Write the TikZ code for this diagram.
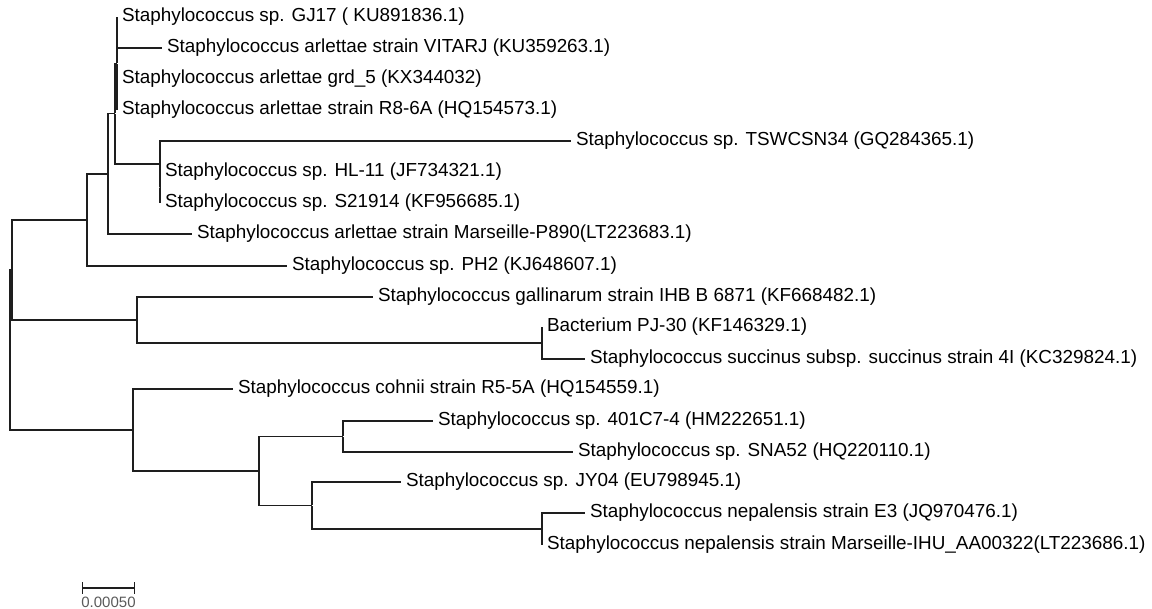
\documentclass[tikz,border=0pt]{standalone}
\usepackage{fontspec}
\setmainfont{Liberation Sans}
\usetikzlibrary{arrows.meta,positioning}
\definecolor{ink}{HTML}{1E1E1E}
\definecolor{scalegray}{HTML}{5A5A5A}
\tikzset{
  branch/.style={draw=ink,line width=.9pt},
  fork/.style={inner sep=0pt,minimum size=0pt},
  leaf/.style={anchor=west,inner xsep=3.6pt,inner ysep=0pt,text height=.72em,text depth=0pt,
    font=\fontsize{14.15}{16}\selectfont,text=black},
  scalelabel/.style={inner sep=0pt,text height=.72em,text depth=0pt,
    font=\fontsize{11.25}{13}\selectfont,text=scalegray},
}

\begin{document}
\begin{tikzpicture}[x=.75pt,y=-.75pt]
  \useasboundingbox (0,0) rectangle (1152,609);
  % leaves
  \node[leaf] (gj17) at (117,17) {Staphylococcus sp. GJ17 ( KU891836.1)};
  \node[leaf] (vitarj) at (162,48) {Staphylococcus arlettae strain VITARJ (KU359263.1)};
  \node[leaf] (grd5) at (117,79) {Staphylococcus arlettae grd\_5 (KX344032)};
  \node[leaf] (r86a) at (117,110) {Staphylococcus arlettae strain R8-6A (HQ154573.1)};
  \node[leaf] (tswcsn) at (571,141) {Staphylococcus sp. TSWCSN34 (GQ284365.1)};
  \node[leaf] (hl11) at (160,172) {Staphylococcus sp. HL-11 (JF734321.1)};
  \node[leaf] (s21914) at (160,203) {Staphylococcus sp. S21914 (KF956685.1)};
  \node[leaf] (p890) at (192,234) {Staphylococcus arlettae strain Marseille-P890(LT223683.1)};
  \node[leaf] (ph2) at (287,266) {Staphylococcus sp. PH2 (KJ648607.1)};
  \node[leaf] (gallin) at (373,297) {Staphylococcus gallinarum strain IHB B 6871 (KF668482.1)};
  \node[leaf] (pj30) at (542,327) {Bacterium PJ-30 (KF146329.1)};
  \node[leaf] (succin) at (585,359) {Staphylococcus succinus subsp. succinus strain 4I (KC329824.1)};
  \node[leaf] (cohnii) at (233,389) {Staphylococcus cohnii strain R5-5A (HQ154559.1)};
  \node[leaf] (c7four) at (433,421) {Staphylococcus sp. 401C7-4 (HM222651.1)};
  \node[leaf] (sna52) at (573,452) {Staphylococcus sp. SNA52 (HQ220110.1)};
  \node[leaf] (jy04) at (401,482) {Staphylococcus sp. JY04 (EU798945.1)};
  \node[leaf] (e3) at (585,513) {Staphylococcus nepalensis strain E3 (JQ970476.1)};
  \node[leaf] (ihu) at (542,545) {Staphylococcus nepalensis strain Marseille-IHU\_AA00322(LT223686.1)};
  % internal forks
  \node[fork] (c1) at (117,63.5) {};
  \node[fork] (c2) at (160,187.5) {};
  \node[fork] (c3) at (160,164) {};
  \node[fork] (c4) at (115,113.75) {};
  \node[fork] (c5) at (108,174) {};
  \node[fork] (c6) at (87,220) {};
  \node[fork] (c7) at (542,343) {};
  \node[fork] (c8) at (137,320) {};
  \node[fork] (c9) at (12,270) {};
  \node[fork] (c10) at (343,436.5) {};
  \node[fork] (c11) at (542,529) {};
  \node[fork] (c12) at (312,505.5) {};
  \node[fork] (c13) at (259,471) {};
  \node[fork] (c14) at (133,430) {};
  \node[fork] (root) at (10,350) {};
  % branches
  \foreach \p/\c in {root/c9,root/c14,c9/c6,c9/c8,c6/c5,c6/ph2,c5/c4,c5/p890,
      c4/c1,c4/c3,c1/gj17,c1/vitarj,c1/grd5,c1/r86a,c3/tswcsn,c3/c2,c2/hl11,c2/s21914,
      c8/gallin,c8/c7,c7/pj30,c7/succin,c14/cohnii,c14/c13,c13/c10,c13/c12,
      c10/c7four,c10/sna52,c12/jy04,c12/c11,c11/e3,c11/ihu}
    \draw[branch] (\p) |- (\c.west);
  % scale bar
  \coordinate (sb0) at (82,588);
  \coordinate (sb1) at (135,588);
  \draw[branch,{Bar[width=8.5pt]}-{Bar[width=8.5pt]}] (sb0) -- (sb1);
  \node[scalelabel] (sblabel) at (108.5,603) {0.00050};
\end{tikzpicture}
\end{document}
